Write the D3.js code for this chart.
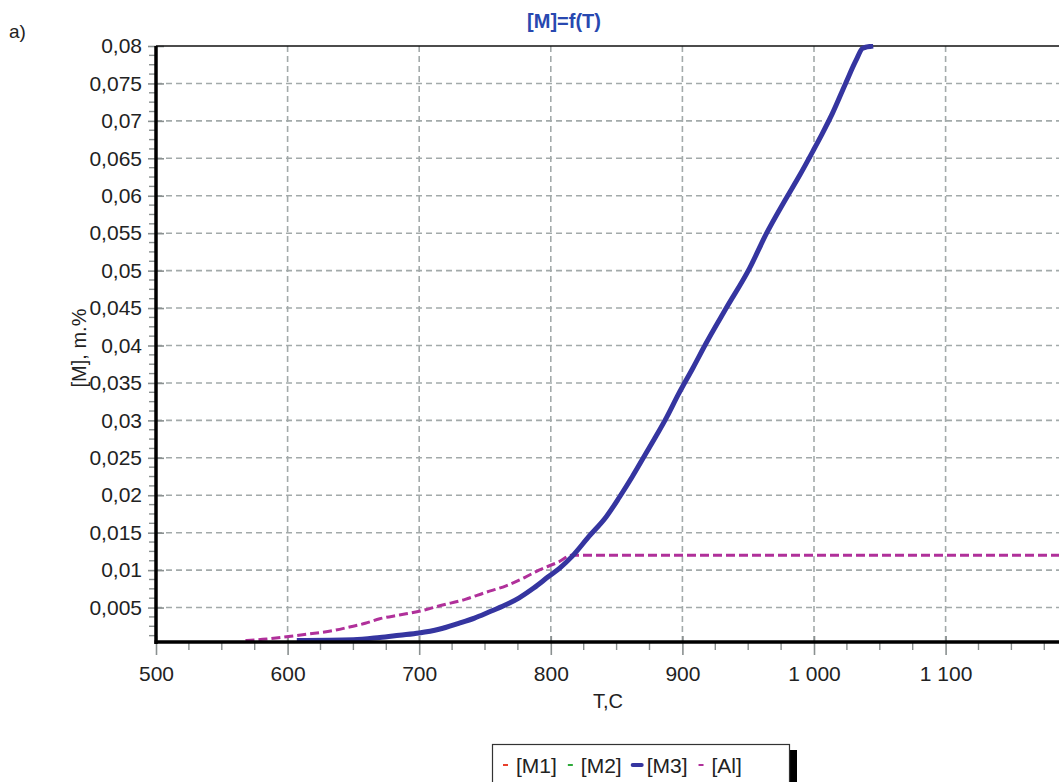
<!DOCTYPE html>
<html>
<head>
<meta charset="utf-8">
<script src="https://cdn.jsdelivr.net/npm/d3@7"></script>
<style>
  body { margin: 0; background: #fff; }
  svg { display: block; font-family: "Liberation Sans", Arial, sans-serif; }
</style>
</head>
<body>
<svg id="chart" width="1059" height="782"></svg>
<script>
// series: [T, value]
var m1 = [];
var m2 = [];
var m3 = [
  [607, 0.0006], [650, 0.0007], [670, 0.0010], [685, 0.0013], [700, 0.0016],
  [715, 0.0021], [730, 0.0029], [742, 0.0036], [753, 0.0044], [765, 0.0053],
  [776, 0.0063], [787, 0.0076], [798, 0.0091], [807, 0.0103], [816, 0.0118],
  [829, 0.0145], [842, 0.0171], [852, 0.0197], [862, 0.0225], [872, 0.0255],
  [880, 0.0279], [888, 0.0304], [897, 0.0335], [908, 0.0370], [918, 0.0403],
  [933, 0.0449], [951, 0.0503], [964, 0.0550], [978, 0.0594], [989, 0.0627],
  [999, 0.0659], [1006, 0.0682], [1014, 0.0710], [1024, 0.0750], [1032, 0.0781],
  [1037, 0.0797], [1045, 0.0800]
];
var al = [
  [568, 0.0006], [584, 0.0008], [599, 0.0011], [617, 0.0015], [634, 0.0019],
  [647, 0.0024], [659, 0.0029], [670, 0.0035], [685, 0.0040], [700, 0.0045],
  [717, 0.0053], [735, 0.0061], [750, 0.0070], [766, 0.0079], [780, 0.0090],
  [791, 0.0100], [806, 0.0111], [816, 0.0120], [1250, 0.0120]
];
var xTicks = [500, 600, 700, 800, 900, 1000, 1100];
var yTicks = d3.range(1, 17).map(function(i) { return +(i * 0.005).toFixed(3); });
var legendItems = [
  {name: "[M1]", color: "#e8402c"},
  {name: "[M2]", color: "#2eaa3a"},
  {name: "[M3]", color: "#3535a0"},
  {name: "[Al]", color: "#b0309a"}
];

var svg = d3.select("#chart");
var plotLeft = 156, plotTop = 46, plotBottom = 642, plotRight = 1059;

var x = d3.scaleLinear().domain([500, 1200]).range([plotLeft, plotLeft + 7 * 131.6]);
var y = d3.scaleLinear().domain([0.0004, 0.08]).range([plotBottom, plotTop]);

var locale = d3.formatLocale({decimal: ",", thousands: " ", grouping: [3], currency: ["", ""]});
var fmtX = locale.format(",d");
var fmtY = function(v) { return String(+v.toFixed(3)).replace(".", ","); };

var gridColor = "#a3aaaa";
var tickColor = "#8a9090";

// grid
svg.append("g").selectAll("line")
  .data(xTicks.slice(1))
  .enter().append("line")
  .attr("x1", function(d) { return x(d); }).attr("x2", function(d) { return x(d); })
  .attr("y1", plotTop).attr("y2", plotBottom)
  .attr("stroke", gridColor).attr("stroke-width", 1.6).attr("stroke-dasharray", "6,4");
svg.append("g").selectAll("line")
  .data(yTicks.slice(0, -1))
  .enter().append("line")
  .attr("x1", plotLeft).attr("x2", plotRight)
  .attr("y1", function(d) { return y(d); }).attr("y2", function(d) { return y(d); })
  .attr("stroke", gridColor).attr("stroke-width", 1.6).attr("stroke-dasharray", "6,4");

// minor ticks
svg.append("g").selectAll("line")
  .data(d3.range(500, 1200, 25).filter(function(d) { return d % 100 != 0; }))
  .enter().append("line")
  .attr("x1", function(d) { return x(d); }).attr("x2", function(d) { return x(d); })
  .attr("y1", plotBottom).attr("y2", plotBottom + 8)
  .attr("stroke", tickColor).attr("stroke-width", 1.4);
svg.append("g").selectAll("line")
  .data(d3.range(1, 64).filter(function(i) { return i % 4 != 0; }).map(function(i) { return i * 0.00125; }))
  .enter().append("line")
  .attr("x1", plotLeft - 7).attr("x2", plotLeft)
  .attr("y1", function(d) { return y(d); }).attr("y2", function(d) { return y(d); })
  .attr("stroke", tickColor).attr("stroke-width", 1.4);

// axes
var xAxis = svg.append("g")
  .attr("transform", "translate(0," + plotBottom + ")")
  .call(d3.axisBottom(x).tickValues(xTicks).tickFormat(fmtX).tickSize(13).tickSizeOuter(0).tickPadding(11));
xAxis.select(".domain").remove();
xAxis.selectAll(".tick line").attr("y1", -6).attr("stroke", tickColor).attr("stroke-width", 1.6);
xAxis.selectAll(".tick text").attr("font-size", 21).attr("fill", "#222");

var yAxis = svg.append("g")
  .attr("transform", "translate(" + plotLeft + ",0)")
  .call(d3.axisLeft(y).tickValues(yTicks).tickFormat(fmtY).tickSize(8).tickSizeOuter(0).tickPadding(6));
yAxis.select(".domain").remove();
yAxis.selectAll(".tick line").attr("x1", 8).attr("stroke", tickColor).attr("stroke-width", 1.6);
yAxis.selectAll(".tick text").attr("font-size", 21).attr("fill", "#222");

// frame
svg.append("line").attr("x1", plotLeft).attr("x2", plotRight).attr("y1", plotTop).attr("y2", plotTop)
  .attr("stroke", "#111").attr("stroke-width", 1.5);

// series
svg.append("clipPath").attr("id", "plot")
  .append("rect").attr("x", plotLeft).attr("y", plotTop - 2)
  .attr("width", plotRight - plotLeft).attr("height", plotBottom - plotTop + 2);
var line = d3.line().curve(d3.curveMonotoneX)
  .x(function(d) { return x(d[0]); }).y(function(d) { return y(d[1]); });
var plot = svg.append("g").attr("clip-path", "url(#plot)");
plot.append("path").datum(al).attr("d", line)
  .attr("fill", "none").attr("stroke", legendItems[3].color).attr("stroke-width", 3)
  .attr("stroke-dasharray", "9,4");
plot.append("path").datum(m1).attr("d", line).attr("fill", "none").attr("stroke", legendItems[0].color);
plot.append("path").datum(m2).attr("d", line).attr("fill", "none").attr("stroke", legendItems[1].color);
plot.append("path").datum(m3).attr("d", line)
  .attr("fill", "none").attr("stroke", legendItems[2].color).attr("stroke-width", 5)
  .attr("stroke-linejoin", "round");

// axis lines on top
svg.append("line").attr("x1", plotLeft).attr("x2", plotLeft).attr("y1", plotTop).attr("y2", plotBottom + 2)
  .attr("stroke", "#000").attr("stroke-width", 3.5);
svg.append("line").attr("x1", plotLeft - 1.5).attr("x2", plotRight).attr("y1", plotBottom).attr("y2", plotBottom)
  .attr("stroke", "#000").attr("stroke-width", 3.5);

// texts
svg.append("text").attr("x", 564).attr("y", 28).attr("text-anchor", "middle")
  .attr("font-size", 20).attr("font-weight", "bold").attr("fill", "#2848b0").text("[M]=f(T)");
svg.append("text").attr("x", 9).attr("y", 38).attr("font-size", 19).attr("fill", "#222").text("a)");
svg.append("text").attr("x", 608).attr("y", 708).attr("text-anchor", "middle")
  .attr("font-size", 20).attr("fill", "#222").text("T,C");
svg.append("text").attr("transform", "translate(86,348) rotate(-90)").attr("text-anchor", "middle")
  .attr("font-size", 20).attr("fill", "#222").text("[M], m.%");

// legend
var lg = svg.append("g");
lg.append("rect").attr("x", 790).attr("y", 750).attr("width", 7).attr("height", 40).attr("fill", "#000");
lg.append("rect").attr("x", 492.5).attr("y", 744.5).attr("width", 297).attr("height", 50)
  .attr("fill", "#fff").attr("stroke", "#333").attr("stroke-width", 1.2);
var lx = 503;
legendItems.forEach(function(it, i) {
  var w = i == 2 ? 9 : 5;
  lg.append("line").attr("x1", lx).attr("x2", lx + w).attr("y1", 765).attr("y2", 765)
    .attr("stroke", it.color).attr("stroke-width", i == 2 ? 4 : 2)
    .attr("stroke-linecap", i == 2 ? "round" : "butt");
  lx += w + (i == 2 ? 5 : 8);
  var t = lg.append("text").attr("x", lx).attr("y", 773).attr("font-size", 21).attr("fill", "#222").text(it.name);
  lx += t.node().getComputedTextLength() + 11;
});
</script>
</body>
</html>
